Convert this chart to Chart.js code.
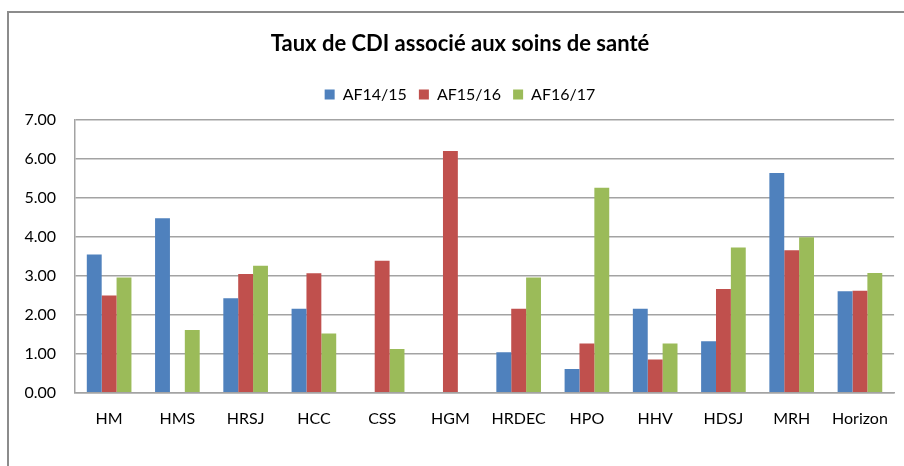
<!DOCTYPE html>
<html>
<head>
<meta charset="utf-8">
<script src="https://cdn.jsdelivr.net/npm/chart.js@4"></script>
<style>
    html, body { margin: 0; padding: 0; background: #fff; overflow: hidden; }
    #frame { position: absolute; left: 7px; top: 11px; width: 920px; height: 480px;
             border-left: 2px solid #8c8c8c; border-top: 2px solid #8c8c8c; }
    #wrap { position: absolute; left: 0; top: 0; width: 904px; height: 466px; }
</style>
</head>
<body>
<div id="frame"></div>
<div id="wrap"><canvas id="chart" width="904" height="466"></canvas></div>
<script>
// chart data
const categories = ['HM', 'HMS', 'HRSJ', 'HCC', 'CSS', 'HGM', 'HRDEC', 'HPO', 'HHV', 'HDSJ', 'MRH', 'Horizon'];
const af1415 = [3.54, 4.47, 2.42, 2.15, null, null, 1.04, 0.61, 2.15, 1.32, 5.63, 2.60];
const af1516 = [2.49, null, 3.04, 3.06, 3.38, 6.19, 2.15, 1.26, 0.85, 2.66, 3.65, 2.61];
const af1617 = [2.95, 1.61, 3.25, 1.52, 1.12, null, 2.95, 5.25, 1.26, 3.72, 3.98, 3.07];
const yTicks = [0, 1, 2, 3, 4, 5, 6, 7];

const font = 'Lato, "Open Sans", sans-serif';
const gridColor = '#a3a3a3';

// a bit more room under the legend, like the original
const legendGap = {
    id: 'legendGap',
    beforeInit(chart) {
        const fit = chart.legend.fit;
        chart.legend.fit = function () {
            fit.bind(chart.legend)();
            this.height += 7;
        };
    }
};

const ctx = document.getElementById('chart').getContext('2d');
new Chart(ctx, {
    type: 'bar',
    data: {
        labels: categories,
        datasets: [
            { label: 'AF14/15', data: af1415, backgroundColor: '#4f81bd' },
            { label: 'AF15/16', data: af1516, backgroundColor: '#c0504d' },
            { label: 'AF16/17', data: af1617, backgroundColor: '#9bbb59' }
        ]
    },
    plugins: [legendGap],
    options: {
        responsive: false,
        animation: false,
        layout: { padding: { left: 20, right: 4, top: 22, bottom: 22 } },
        datasets: { bar: { categoryPercentage: 0.654, barPercentage: 1 } },
        plugins: {
            title: {
                display: true,
                text: 'Taux de CDI associé aux soins de santé',
                color: '#000',
                font: { family: font, size: 22, weight: 'bold' },
                padding: { top: 9, bottom: 17 }
            },
            legend: {
                position: 'top',
                labels: {
                    color: '#000',
                    font: { family: font, size: 16 },
                    boxWidth: 10,
                    boxHeight: 10,
                    padding: 12
                }
            },
            tooltip: { enabled: false }
        },
        scales: {
            x: {
                grid: { display: false, drawTicks: false },
                border: { display: true, color: gridColor, width: 1.5 },
                ticks: { color: '#000', font: { family: font, size: 16 }, padding: 16, maxRotation: 0 }
            },
            y: {
                min: 0,
                max: 7,
                afterFit: scale => { scale.width = 55; },
                afterBuildTicks: scale => { scale.ticks = yTicks.map(v => ({ value: v })); },
                grid: { color: gridColor, lineWidth: 1.5, drawTicks: false },
                border: { display: true, color: gridColor, width: 1.5 },
                ticks: {
                    color: '#000',
                    font: { family: font, size: 16 },
                    padding: 19,
                    callback: v => v.toFixed(2)
                }
            }
        }
    }
});
</script>
</body>
</html>
